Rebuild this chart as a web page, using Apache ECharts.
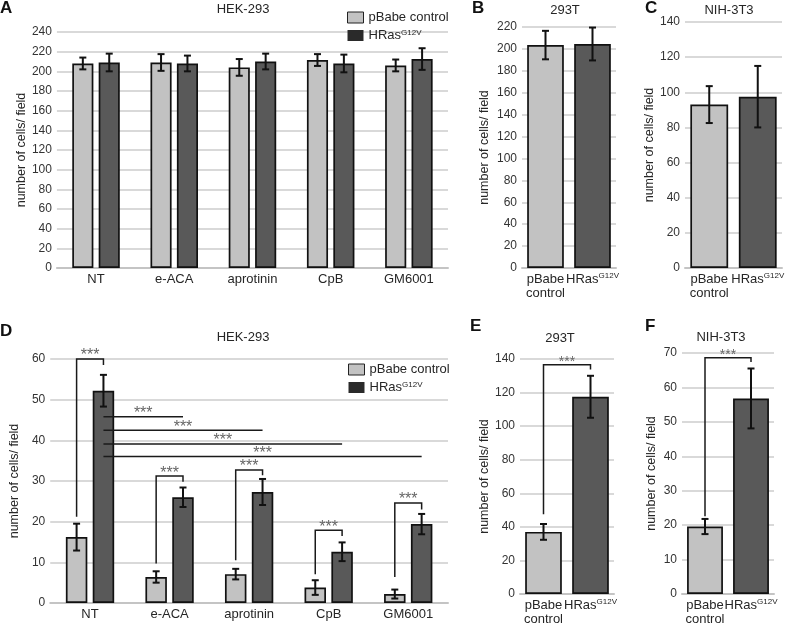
<!DOCTYPE html>
<html>
<head>
<meta charset="utf-8">
<script src="https://cdn.jsdelivr.net/npm/echarts@6/dist/echarts.min.js"></script>
<style>
  html, body { margin: 0; padding: 0; background: #fff; }
  #chart { width: 790px; height: 626px; }
</style>
</head>
<body>
<div id="chart"></div>
<script>
var treatments = ['NT', 'e-ACA', 'aprotinin', 'CpB', 'GM6001'];
var cellGroups = ['pBabe\ncontrol', 'HRas{s|G12V}'];

// A - HEK-293, cells per field
var aControl = [208, 209, 204, 211.5, 206];
var aControlErr = [6, 8.5, 8.5, 6, 6];
var aHras = [209, 208, 210, 208, 212.5];
var aHrasErr = [9, 8, 8, 9, 11];

// B - 293T, C - NIH-3T3
var bMeans = [203.5, 204.5];
var bErr = [13, 15];
var cMeans = [93, 97.5];
var cErr = [10.5, 17.5];

// D - HEK-293 with inhibitors
var dControl = [16.2, 6.4, 7.1, 3.8, 2.2];
var dControlErr = [3.3, 1.4, 1.3, 1.8, 1.1];
var dHras = [52.2, 26.0, 27.3, 12.6, 19.4];
var dHrasErr = [3.9, 2.4, 3.2, 2.3, 2.5];

// E - 293T, F - NIH-3T3
var eMeans = [37, 117.5];
var eErr = [4.7, 12.5];
var fMeans = [19.6, 56.8];
var fErr = [2.2, 8.7];

// y axes: [min, max, step]
var aAxis = [0, 240, 20];
var bAxis = [0, 220, 20];
var cAxis = [0, 140, 20];
var dAxis = [0, 60, 10];
var eAxis = [0, 140, 20];
var fAxis = [0, 70, 10];

// significance brackets: [fromCat, fromBar, fromY, topY, toCat, toBar, toY]
var dBrackets = [
  [0, 0, 21.2, 60, 0, 1, 58.5],
  [1, 0, 9.7, 31.2, 1, 1, 29.8],
  [2, 0, 10.5, 32.7, 2, 1, 31.4],
  [3, 0, 7.1, 17.9, 3, 1, 16.5],
  [4, 0, 6.4, 24.6, 4, 1, 23.0],
  [0, 1, 45.8, 45.8, 1, 1, 45.8],
  [0, 1, 42.5, 42.5, 2, 1, 42.5],
  [0, 1, 39.1, 39.1, 3, 1, 39.1],
  [0, 1, 36.0, 36.0, 4, 1, 36.0]
];
var eBrackets = [[0, 0, 47.5, 136.6, 1, 0, 133.7]];
var fBrackets = [[0, 0, 22.6, 68.6, 1, 0, 67.4]];

var FONT = 'Liberation Sans, Arial, sans-serif';
var LIGHT = '#c2c2c2';
var DARK = '#595959';
var INK = '#262626';
var GRID = '#d9d9d9';
var BAR_W = 0.27;
var BAR_GAP = 0.25;

var chart = echarts.init(document.getElementById('chart'), null, { renderer: 'canvas' });

function barOffset(api, grouped, bar) {
  if (!grouped) return 0;
  var bw = api.size([1, 0])[0] * BAR_W;
  var off = (bw + bw * BAR_GAP) / 2;
  return bar === 0 ? -off : off;
}

function errorSeries(idx, means, errs, bar, grouped) {
  return {
    type: 'custom',
    xAxisIndex: idx,
    yAxisIndex: idx,
    z: 5,
    silent: true,
    encode: { x: 0, y: 1 },
    data: means.map(function (m, i) { return [i, m, errs[i], bar]; }),
    renderItem: function (params, api) {
      var cat = api.value(0), m = api.value(1), e = api.value(2), b = api.value(3);
      var top = api.coord([cat, m + e]);
      var bot = api.coord([cat, m - e]);
      var x = top[0] + barOffset(api, grouped, b);
      var cap = 3.5;
      var st = { stroke: '#111', lineWidth: 2 };
      return {
        type: 'group',
        children: [
          { type: 'line', shape: { x1: x, y1: top[1], x2: x, y2: bot[1] }, style: st },
          { type: 'line', shape: { x1: x - cap, y1: top[1], x2: x + cap, y2: top[1] }, style: st },
          { type: 'line', shape: { x1: x - cap, y1: bot[1], x2: x + cap, y2: bot[1] }, style: st }
        ]
      };
    }
  };
}

function bracketSeries(idx, rows, grouped, starSize) {
  return {
    type: 'custom',
    xAxisIndex: idx,
    yAxisIndex: idx,
    z: 6,
    silent: true,
    encode: { x: 0, y: 3 },
    data: rows,
    renderItem: function (params, api) {
      var p1 = api.coord([api.value(0), api.value(2)]);
      var pt = api.coord([api.value(0), api.value(3)]);
      var p2 = api.coord([api.value(4), api.value(6)]);
      var x1 = p1[0] + barOffset(api, grouped, api.value(1));
      var x2 = p2[0] + barOffset(api, grouped, api.value(5));
      var yt = pt[1];
      return {
        type: 'group',
        children: [
          {
            type: 'polyline',
            shape: { points: [[x1, p1[1]], [x1, yt], [x2, yt], [x2, p2[1]]] },
            style: { stroke: '#1a1a1a', lineWidth: 1.5, fill: null }
          },
          {
            type: 'text',
            x: (x1 + x2) / 2,
            y: yt - 3,
            style: {
              text: '***', fill: '#666', fontSize: starSize, fontFamily: FONT,
              align: 'center', verticalAlign: 'middle'
            }
          }
        ]
      };
    }
  };
}

function pairSeries(idx, means) {
  return {
    type: 'bar',
    xAxisIndex: idx,
    yAxisIndex: idx,
    barWidth: '78%',
    silent: true,
    data: means.map(function (v, i) {
      return { value: v, itemStyle: { color: i === 0 ? LIGHT : DARK } };
    }),
    itemStyle: { borderColor: '#111', borderWidth: 1.7 }
  };
}

function groupedSeries(idx, name, vals, color) {
  return {
    name: name,
    type: 'bar',
    xAxisIndex: idx,
    yAxisIndex: idx,
    barWidth: BAR_W * 100 + '%',
    barGap: BAR_GAP * 100 + '%',
    silent: true,
    data: vals,
    itemStyle: { color: color, borderColor: '#111', borderWidth: 1.7 }
  };
}

var supRich = {
  s: { fontSize: 8, fontFamily: FONT, color: INK, verticalAlign: 'top', lineHeight: 9 }
};

function xAxisFor(idx, cats) {
  return {
    type: 'category',
    gridIndex: idx,
    data: cats,
    axisLine: { lineStyle: { color: '#c4c4c4', width: 2 } },
    axisTick: { show: false },
    axisLabel: {
      color: INK, fontSize: 13, fontFamily: FONT, margin: 4, lineHeight: 14,
      interval: 0, rich: supRich
    }
  };
}

function yAxisFor(idx, ax, gap) {
  return {
    type: 'value',
    gridIndex: idx,
    min: ax[0],
    max: ax[1],
    interval: ax[2],
    name: 'number of cells/ field',
    nameLocation: 'middle',
    nameGap: gap,
    nameTextStyle: { color: INK, fontSize: 12.5, fontFamily: FONT },
    axisLine: { show: false },
    axisTick: { show: false },
    axisLabel: { color: '#333', fontSize: 12, fontFamily: FONT, margin: 5 },
    splitLine: { lineStyle: { color: GRID, width: 2 } }
  };
}

function legendAt(left, top) {
  return {
    orient: 'vertical',
    left: left,
    top: top,
    padding: 0,
    itemWidth: 16,
    itemHeight: 11,
    itemGap: 5,
    selectedMode: false,
    icon: 'rect',
    data: [
      { name: 'pBabe control', itemStyle: { color: LIGHT, borderColor: '#222', borderWidth: 1 } },
      { name: 'HRasG12V', itemStyle: { color: '#2a2a2a', borderWidth: 0 } }
    ],
    formatter: function (n) { return n === 'HRasG12V' ? 'HRas{s|G12V}' : n; },
    textStyle: { color: INK, fontSize: 13, fontFamily: FONT, rich: supRich }
  };
}

function label(text, x, y, bold) {
  return {
    type: 'text',
    x: x,
    y: y,
    style: {
      text: text,
      fill: bold ? '#111' : INK,
      fontSize: bold ? 17 : 13,
      fontWeight: bold ? 'bold' : 'normal',
      fontFamily: FONT,
      align: bold ? 'left' : 'center',
      verticalAlign: 'middle'
    }
  };
}

chart.setOption({
  animation: false,
  backgroundColor: '#fff',
  grid: [
    { left: 47, top: 32, width: 401, height: 236 },
    { left: 522, top: 27, width: 94, height: 241 },
    { left: 685, top: 22, width: 97, height: 246 },
    { left: 43, top: 359, width: 405, height: 244 },
    { left: 520, top: 359, width: 94, height: 236 },
    { left: 682, top: 353, width: 92, height: 242 }
  ],
  xAxis: [
    xAxisFor(0, treatments),
    xAxisFor(1, cellGroups),
    xAxisFor(2, cellGroups),
    xAxisFor(3, treatments),
    xAxisFor(4, cellGroups),
    xAxisFor(5, cellGroups)
  ],
  yAxis: [
    yAxisFor(0, aAxis, 28),
    yAxisFor(1, bAxis, 31),
    yAxisFor(2, cAxis, 22),
    yAxisFor(3, dAxis, 22),
    yAxisFor(4, eAxis, 24),
    yAxisFor(5, fAxis, 24)
  ],
  legend: [legendAt(347, 11), legendAt(348, 363)],
  graphic: [
    label('A', 0, 8, true),
    label('HEK-293', 243, 9),
    label('B', 472, 8, true),
    label('293T', 565, 10),
    label('C', 645, 8, true),
    label('NIH-3T3', 729, 10),
    label('D', 0, 331, true),
    label('HEK-293', 243, 337),
    label('E', 470, 326, true),
    label('293T', 560, 338),
    label('F', 645, 326, true),
    label('NIH-3T3', 721, 337)
  ],
  series: [
    groupedSeries(0, 'pBabe control', aControl, LIGHT),
    groupedSeries(0, 'HRasG12V', aHras, DARK),
    errorSeries(0, aControl, aControlErr, 0, true),
    errorSeries(0, aHras, aHrasErr, 1, true),

    pairSeries(1, bMeans),
    errorSeries(1, bMeans, bErr, 0, false),

    pairSeries(2, cMeans),
    errorSeries(2, cMeans, cErr, 0, false),

    groupedSeries(3, 'pBabe control', dControl, LIGHT),
    groupedSeries(3, 'HRasG12V', dHras, DARK),
    errorSeries(3, dControl, dControlErr, 0, true),
    errorSeries(3, dHras, dHrasErr, 1, true),
    bracketSeries(3, dBrackets, true, 16),

    pairSeries(4, eMeans),
    errorSeries(4, eMeans, eErr, 0, false),
    bracketSeries(4, eBrackets, false, 14),

    pairSeries(5, fMeans),
    errorSeries(5, fMeans, fErr, 0, false),
    bracketSeries(5, fBrackets, false, 14)
  ]
});
</script>
</body>
</html>
